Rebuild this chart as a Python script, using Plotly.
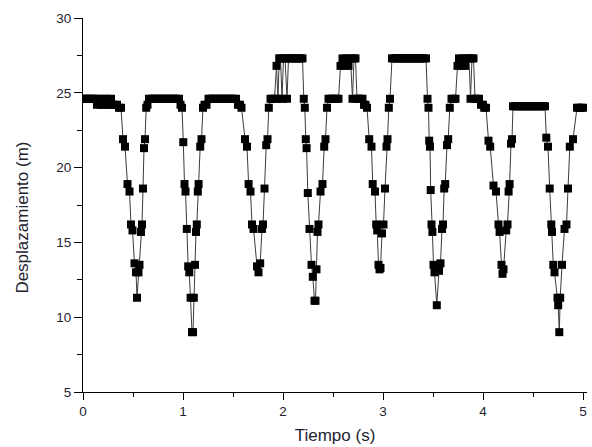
import plotly.graph_objects as go

# Tracked position of the object over 5 s (time in s, displacement in m)
tiempo_s = [
    0.00, 0.02, 0.04, 0.06, 0.08, 0.10, 0.12, 0.14, 0.16, 0.18, 0.20, 0.22, 0.24, 0.26, 0.28, 0.30, 0.32, 0.34, 0.36, 0.38,
    0.400, 0.420, 0.445, 0.465, 0.480, 0.495, 0.515, 0.530, 0.540, 0.555, 0.565, 0.580, 0.590, 0.600, 0.610, 0.620, 0.632,
    0.645, 0.66, 0.68, 0.70, 0.72, 0.74, 0.76, 0.78, 0.80, 0.82, 0.84, 0.86, 0.88, 0.90, 0.92, 0.94, 0.96, 0.975, 0.990,
    1.003, 1.015, 1.025, 1.038, 1.052, 1.063, 1.076, 1.090, 1.100, 1.108, 1.120, 1.130, 1.138, 1.148, 1.156, 1.172, 1.185, 1.200,
    1.215, 1.235, 1.255, 1.27, 1.29, 1.31, 1.33, 1.35, 1.37, 1.39, 1.41, 1.43, 1.45, 1.47, 1.49, 1.51, 1.53, 1.55, 1.57, 1.585,
    1.620, 1.640, 1.656, 1.675, 1.690, 1.705, 1.740, 1.755, 1.772, 1.790, 1.800, 1.815, 1.832, 1.845, 1.858,
    1.875, 1.895, 1.915, 1.935, 1.950, 1.962, 1.975, 1.990, 2.005, 2.020, 2.040, 2.055, 2.075, 2.095, 2.115, 2.135, 2.155, 2.175, 2.195, 2.208,
    2.218, 2.228, 2.236, 2.248, 2.265, 2.285, 2.298, 2.315, 2.325, 2.335, 2.345, 2.355, 2.375, 2.395, 2.412, 2.425, 2.440,
    2.455, 2.475, 2.495, 2.515, 2.535, 2.555, 2.575, 2.595, 2.615, 2.635, 2.655, 2.675, 2.695, 2.710, 2.725, 2.740, 2.755, 2.775, 2.795, 2.810, 2.825,
    2.840, 2.862, 2.885, 2.897, 2.920, 2.932, 2.942, 2.955, 2.965, 2.975, 2.990, 3.005, 3.020, 3.035, 3.045, 3.058,
    3.070, 3.09, 3.11, 3.13, 3.15, 3.17, 3.19, 3.21, 3.23, 3.25, 3.27, 3.29, 3.31, 3.33, 3.35, 3.37, 3.39, 3.41, 3.430, 3.445,
    3.455, 3.462, 3.470, 3.477, 3.485, 3.494, 3.505, 3.515, 3.538, 3.560, 3.575, 3.590, 3.600, 3.612, 3.622, 3.640, 3.652, 3.668,
    3.685, 3.705, 3.725, 3.745, 3.760, 3.780, 3.800, 3.820, 3.840, 3.860, 3.875, 3.890, 3.905, 3.920, 3.940, 3.960, 3.980, 4.000, 4.012, 4.030,
    4.055, 4.072, 4.105, 4.130, 4.155, 4.166, 4.185, 4.195, 4.205, 4.232, 4.245, 4.256, 4.266, 4.280, 4.290, 4.300,
    4.32, 4.34, 4.36, 4.38, 4.40, 4.42, 4.44, 4.46, 4.48, 4.50, 4.52, 4.54, 4.56, 4.58, 4.60, 4.62,
    4.633, 4.650, 4.667, 4.683, 4.690, 4.703, 4.715, 4.745, 4.752, 4.763, 4.772, 4.790, 4.815, 4.835, 4.850, 4.868, 4.900, 4.940, 4.960, 4.980, 5.000,
]

desplazamiento_m = [
    24.6, 24.6, 24.6, 24.6, 24.6, 24.6, 24.6, 24.2, 24.6, 24.2, 24.6, 24.2, 24.6, 24.2, 24.6, 24.2, 24.2, 24.2, 24.0, 24.0,
    21.9, 21.4, 18.9, 18.4, 16.2, 15.8, 13.6, 13.0, 11.3, 13.0, 13.5, 15.7, 16.2, 18.6, 21.3, 21.9, 24.0,
    24.2, 24.6, 24.6, 24.6, 24.6, 24.6, 24.6, 24.6, 24.6, 24.6, 24.6, 24.6, 24.6, 24.6, 24.6, 24.6, 24.6, 24.2, 24.0,
    21.7, 18.9, 18.4, 15.9, 13.4, 13.0, 11.3, 9.0, 9.0, 11.3, 13.5, 15.7, 16.2, 18.4, 18.9, 21.4, 21.9, 24.0,
    24.2, 24.2, 24.6, 24.6, 24.6, 24.6, 24.6, 24.6, 24.6, 24.6, 24.6, 24.6, 24.6, 24.6, 24.6, 24.6, 24.6, 24.2, 24.2, 24.0,
    21.9, 21.4, 18.9, 18.4, 16.2, 15.9, 13.4, 13.0, 13.6, 15.9, 16.2, 18.6, 21.5, 21.9, 24.0,
    24.6, 24.6, 24.6, 26.8, 24.6, 27.3, 27.3, 24.6, 27.3, 27.3, 24.6, 27.3, 27.3, 27.3, 27.3, 27.3, 27.3, 27.3, 27.3, 24.6,
    24.0, 21.9, 21.3, 18.3, 15.9, 13.5, 12.7, 11.1, 11.1, 13.2, 15.7, 16.2, 18.4, 18.9, 21.4, 21.9, 24.0,
    24.6, 24.6, 24.6, 24.6, 24.6, 24.6, 26.8, 27.3, 26.8, 27.3, 26.8, 27.3, 24.6, 27.3, 27.3, 24.6, 24.6, 24.6, 24.6, 24.2, 24.2,
    24.0, 21.9, 21.4, 18.9, 18.4, 16.2, 15.8, 13.5, 13.2, 13.3, 15.6, 16.2, 18.6, 21.4, 21.9, 24.0,
    24.6, 27.3, 27.3, 27.3, 27.3, 27.3, 27.3, 27.3, 27.3, 27.3, 27.3, 27.3, 27.3, 27.3, 27.3, 27.3, 27.3, 27.3, 27.3, 24.6,
    24.0, 21.8, 21.4, 18.5, 16.2, 15.7, 13.5, 13.0, 10.8, 13.1, 13.6, 15.9, 16.2, 18.6, 18.9, 21.5, 21.9, 24.0,
    24.6, 24.6, 24.6, 26.8, 27.3, 26.8, 27.3, 26.8, 27.3, 27.3, 24.6, 27.3, 27.3, 24.6, 24.6, 24.6, 24.2, 24.2, 24.0, 24.0,
    21.8, 21.4, 18.8, 18.4, 16.2, 15.7, 13.5, 12.9, 13.2, 15.8, 16.2, 18.4, 18.9, 21.6, 21.9, 24.1,
    24.1, 24.1, 24.1, 24.1, 24.1, 24.1, 24.1, 24.1, 24.1, 24.1, 24.1, 24.1, 24.1, 24.1, 24.1, 24.1,
    22.0, 21.4, 18.6, 16.2, 15.7, 13.5, 13.0, 11.3, 10.8, 9.0, 11.3, 13.5, 15.9, 16.2, 18.6, 21.4, 21.9, 24.0, 24.0, 24.0, 24.0,
]

x_ticks = [0, 1, 2, 3, 4, 5]
y_ticks = [5, 10, 15, 20, 25, 30]
x_range = [0, 5.04]
y_range = [5, 30]

assert len(tiempo_s) == len(desplazamiento_m)

FONT = "Arial, 'Liberation Sans', sans-serif"
TEXT = "#23232f"

fig = go.Figure(
    go.Scatter(
        x=tiempo_s,
        y=desplazamiento_m,
        mode="lines+markers",
        line=dict(color="#3c3c3c", width=1),
        marker=dict(symbol="square", size=8, color="black", line=dict(width=0)),
        showlegend=False,
    )
)

common = dict(
    showgrid=False,
    zeroline=False,
    showline=True,
    linecolor="black",
    linewidth=1,
)

fig.update_layout(
    width=592,
    height=447,
    margin=dict(l=83, r=5, t=18, b=55),
    paper_bgcolor="white",
    plot_bgcolor="white",
    font=dict(family=FONT, color=TEXT, size=13.5),
    xaxis=dict(
        **common,
        range=x_range,
        tickvals=x_ticks,
        ticktext=[str(v) for v in x_ticks],
        ticks="outside",
        ticklen=7,
        tickcolor="black",
        minor=dict(dtick=0.5, ticks="outside", ticklen=4, tickcolor="black"),
        title=dict(text="Tiempo (s)", font=dict(size=17, color=TEXT), standoff=10),
    ),
    yaxis=dict(
        **common,
        range=y_range,
        tickvals=y_ticks,
        ticktext=[str(v) for v in y_ticks],
        ticks="outside",
        ticklen=8,
        tickcolor="black",
        minor=dict(dtick=2.5, ticks="outside", ticklen=5, tickcolor="black"),
    ),
    xaxis2=dict(
        **common,
        range=x_range,
        overlaying="x",
        anchor="y",
        side="top",
        tickvals=x_ticks,
        ticks="inside",
        ticklen=5,
        tickcolor="black",
        showticklabels=False,
        minor=dict(dtick=0.5, ticks="inside", ticklen=3, tickcolor="black"),
    ),
    yaxis2=dict(
        **common,
        range=y_range,
        overlaying="y",
        anchor="x",
        side="right",
        tickvals=y_ticks,
        ticks="inside",
        ticklen=6,
        tickcolor="black",
        showticklabels=False,
        minor=dict(dtick=2.5, ticks="inside", ticklen=4, tickcolor="black"),
    ),
)

# Vertical axis title placed beside the tick labels
fig.add_annotation(
    text="Desplazamiento (m)",
    textangle=-90,
    xref="paper",
    yref="paper",
    x=-0.12,
    y=0.465,
    xanchor="center",
    yanchor="middle",
    showarrow=False,
    font=dict(size=17, color=TEXT, family=FONT),
)

fig.write_html("out.html")
